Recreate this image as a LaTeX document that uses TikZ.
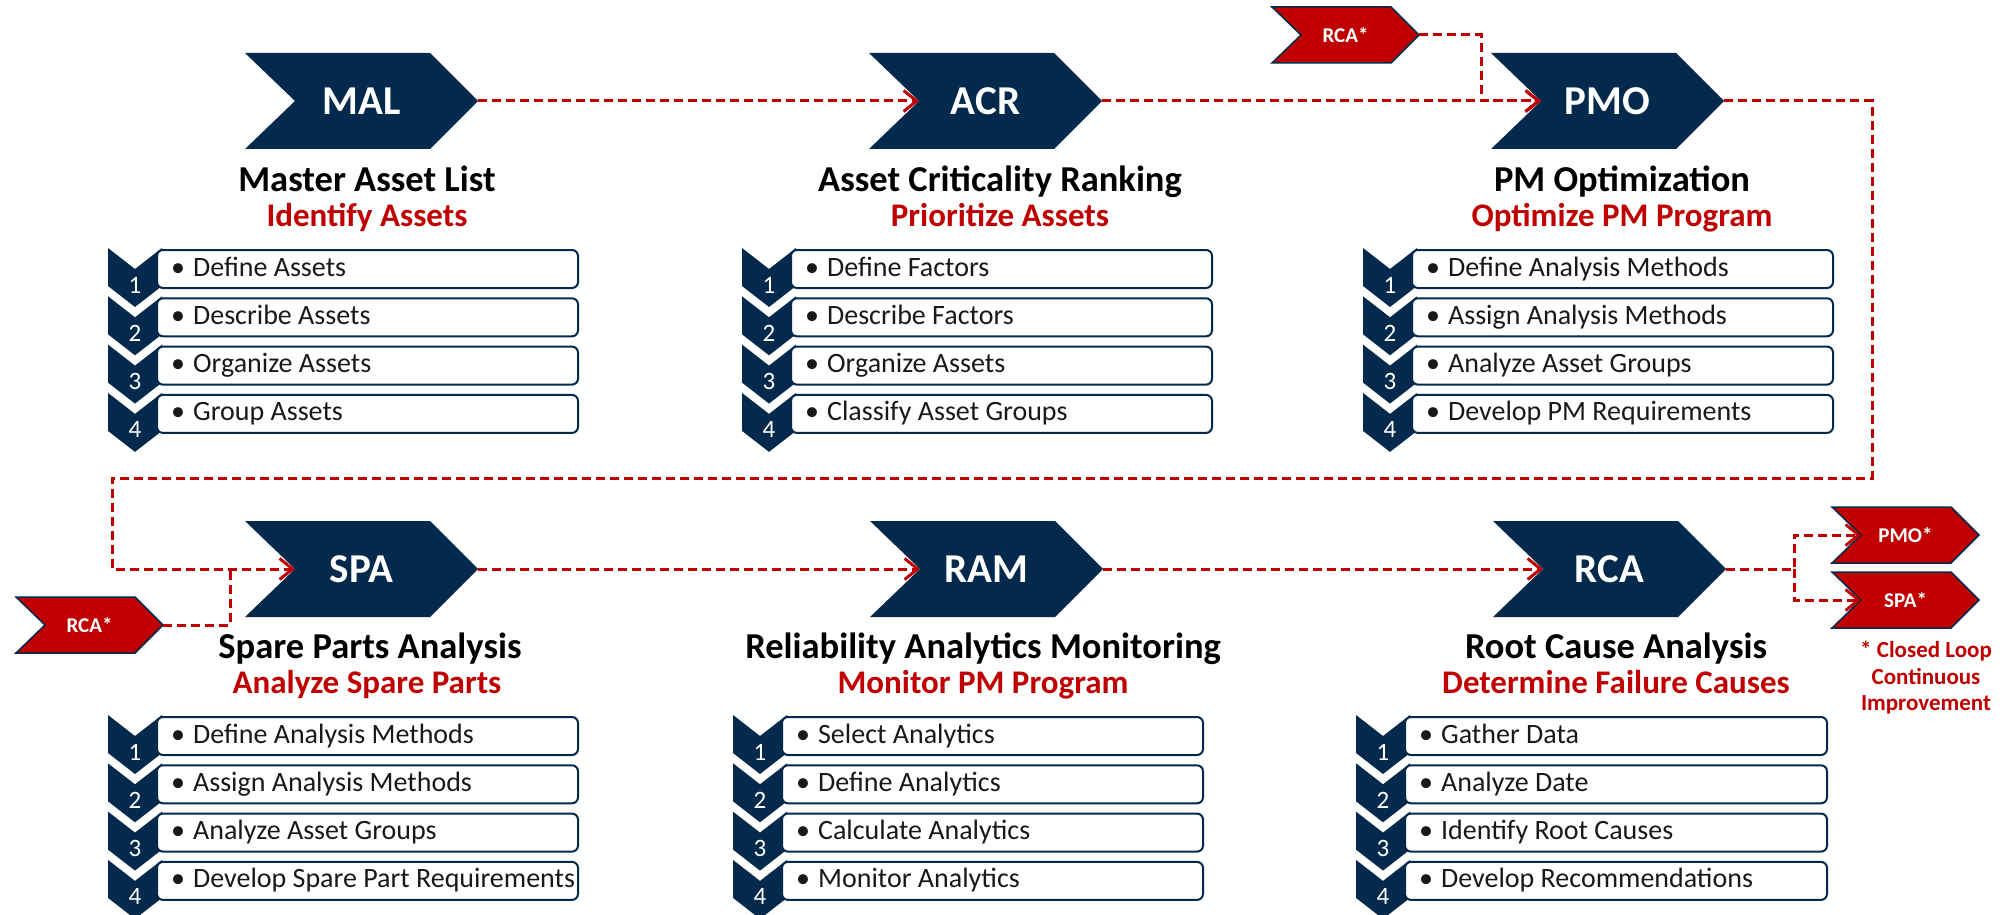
\documentclass[tikz,border=0pt]{standalone}
\usepackage{fontspec}
\setmainfont{Carlito}
\usetikzlibrary{arrows.meta}

\definecolor{navy}{RGB}{3,42,76}
\definecolor{dred}{RGB}{192,0,0}

\tikzset{
  flowline/.style={draw=dred, line width=3pt, dash pattern=on 9pt off 5pt},
  flow/.style={flowline, -{Straight Barb[length=13pt,width=21pt]}},
  chevlabel/.style={text=white, font=\bfseries\fontsize{41}{44}\selectfont, inner sep=0pt},
  taglabel/.style={text=white, font=\bfseries\fontsize{21}{24}\selectfont, inner sep=0pt},
  headline/.style={font=\bfseries\fontsize{36.5}{40}\selectfont, anchor=base, inner sep=0pt},
  subline/.style={font=\bfseries\fontsize{33}{36}\selectfont, text=dred, anchor=base, inner sep=0pt},
  stepbox/.style={draw=navy, line width=2pt, fill=white, rounded corners=6pt},
  stepnum/.style={text=white, font=\fontsize{25}{28}\selectfont, anchor=base, inner sep=0pt},
  steptext/.style={font=\fontsize{28}{30}\selectfont, anchor=base west, inner sep=0pt, text=black!90},
  notetext/.style={font=\bfseries\fontsize{23}{26.5}\selectfont, text=dred, align=center, inner sep=0pt},
}

% large process chevron: name, left x, centre y, label
\newcommand{\mainchev}[4]{%
  \fill[navy] (#2,#3-48) -- (#2+185,#3-48) -- (#2+233,#3) -- (#2+185,#3+48)
      -- (#2,#3+48) -- (#2+50,#3) -- cycle;
  \node[chevlabel] (#1) at (#2+116.5,#3) {#4};
  \coordinate (#1-in) at (#2+50,#3);
  \coordinate (#1-out) at (#2+233,#3);
}

% small red loop-back tag: name, left x, centre y, label
\newcommand{\tagchev}[4]{%
  \filldraw[fill=dred, draw=navy, line width=1.5pt] (#2,#3-28) -- (#2+119,#3-28)
      -- (#2+147,#3) -- (#2+119,#3+28) -- (#2,#3+28) -- (#2+29,#3) -- cycle;
  \node[taglabel] (#1) at (#2+73.5,#3) {#4};
  \coordinate (#1-in) at (#2+29,#3);
  \coordinate (#1-out) at (#2+147,#3);
}

% numbered step: name, chevron left x, box right x, box top y, number, text
\newcommand{\stepitem}[6]{%
  \fill[navy] (#2,#4-2) -- (#2+27,#4+19) -- (#2+54,#4-2) -- (#2+54,#4+36)
      -- (#2+27,#4+57) -- (#2,#4+36) -- cycle;
  \path[stepbox] (#2+49,#4) rectangle (#3,#4+38);
  \node[stepnum] (#1-n) at (#2+27,#4+43) {#5};
  \node[steptext] (#1) at (#2+63,#4+26) {\textbullet\hspace{8pt}#6};
}

\begin{document}
\begin{tikzpicture}[x=1pt, y=-1pt]
\fill[white] (0,0) rectangle (2005,915);
\useasboundingbox (0,0) rectangle (2005,915);

% ---------- upper row ----------
\mainchev{MAL}{245}{101}{MAL}
\mainchev{ACR}{869}{101}{ACR}
\mainchev{PMO}{1491}{101}{PMO}

\node[headline] (MAL-t) at (367,191) {Master Asset List};
\node[subline]  (MAL-s) at (367,226) {Identify Assets};
\node[headline] (ACR-t) at (1000,191) {Asset Criticality Ranking};
\node[subline]  (ACR-s) at (1000,226) {Prioritize Assets};
\node[headline] (PMO-t) at (1622,191) {PM Optimization};
\node[subline]  (PMO-s) at (1622,226) {Optimize PM Program};

\stepitem{mal1}{108}{578}{250}{1}{Define Assets}
\stepitem{mal2}{108}{578}{298.3}{2}{Describe Assets}
\stepitem{mal3}{108}{578}{346.6}{3}{Organize Assets}
\stepitem{mal4}{108}{578}{394.9}{4}{Group Assets}

\stepitem{acr1}{742}{1212}{250}{1}{Define Factors}
\stepitem{acr2}{742}{1212}{298.3}{2}{Describe Factors}
\stepitem{acr3}{742}{1212}{346.6}{3}{Organize Assets}
\stepitem{acr4}{742}{1212}{394.9}{4}{Classify Asset Groups}

\stepitem{pmo1}{1363}{1833}{250}{1}{Define Analysis Methods}
\stepitem{pmo2}{1363}{1833}{298.3}{2}{Assign Analysis Methods}
\stepitem{pmo3}{1363}{1833}{346.6}{3}{Analyze Asset Groups}
\stepitem{pmo4}{1363}{1833}{394.9}{4}{Develop PM Requirements}

% ---------- lower row ----------
\mainchev{SPA}{245}{569}{SPA}
\mainchev{RAM}{870}{569}{RAM}
\mainchev{RCA}{1493}{569}{RCA}

\node[headline] (SPA-t) at (370,658) {Spare Parts Analysis};
\node[subline]  (SPA-s) at (367,693) {Analyze Spare Parts};
\node[headline] (RAM-t) at (983,658) {Reliability Analytics Monitoring};
\node[subline]  (RAM-s) at (983,693) {Monitor PM Program};
\node[headline] (RCA-t) at (1616,658) {Root Cause Analysis};
\node[subline]  (RCA-s) at (1616,693) {Determine Failure Causes};

\stepitem{spa1}{108}{578}{717}{1}{Define Analysis Methods}
\stepitem{spa2}{108}{578}{765.3}{2}{Assign Analysis Methods}
\stepitem{spa3}{108}{578}{813.6}{3}{Analyze Asset Groups}
\stepitem{spa4}{108}{578}{861.9}{4}{Develop Spare Part Requirements}

\stepitem{ram1}{733}{1203}{717}{1}{Select Analytics}
\stepitem{ram2}{733}{1203}{765.3}{2}{Define Analytics}
\stepitem{ram3}{733}{1203}{813.6}{3}{Calculate Analytics}
\stepitem{ram4}{733}{1203}{861.9}{4}{Monitor Analytics}

\stepitem{rca1}{1356}{1827}{717}{1}{Gather Data}
\stepitem{rca2}{1356}{1827}{765.3}{2}{Analyze Date}
\stepitem{rca3}{1356}{1827}{813.6}{3}{Identify Root Causes}
\stepitem{rca4}{1356}{1827}{861.9}{4}{Develop Recommendations}

% ---------- loop-back tags ----------
\tagchev{tagTop}{1272}{35}{RCA*}
\tagchev{tagLow}{16}{625}{RCA*}
\tagchev{tagPMO}{1832}{535}{PMO*}
\tagchev{tagSPA}{1832}{600}{SPA*}

\node[notetext, anchor=north] (note) at (1926,641) {* Closed Loop\\Continuous\\Improvement};

% ---------- connectors ----------
\coordinate (joinTop) at (1481,101);
\coordinate (loopA) at (1872,101);
\coordinate (loopB) at (1872,478);
\coordinate (loopC) at (112,478);
\coordinate (loopD) at (112,569);
\coordinate (joinLow) at (230,569);
\coordinate (split) at (1794,569);

\draw[flow] (MAL-out) -- (ACR-in);
\draw[flow] (ACR-out) -- (PMO-in);
\draw[flow] (tagTop-out) -| (joinTop) -- (PMO-in);
\draw[flow] (PMO-out) -- (loopA) -- (loopB) -- (loopC) -- (loopD) -- (SPA-in);
\draw[flowline] (tagLow-out) -| (joinLow);
\draw[flow] (SPA-out) -- (RAM-in);
\draw[flow] (RAM-out) -- (RCA-in);
\draw[flow] (RCA-out) -- (split) |- (tagPMO-in);
\draw[flow] (split) |- (tagSPA-in);
\end{tikzpicture}
\end{document}
